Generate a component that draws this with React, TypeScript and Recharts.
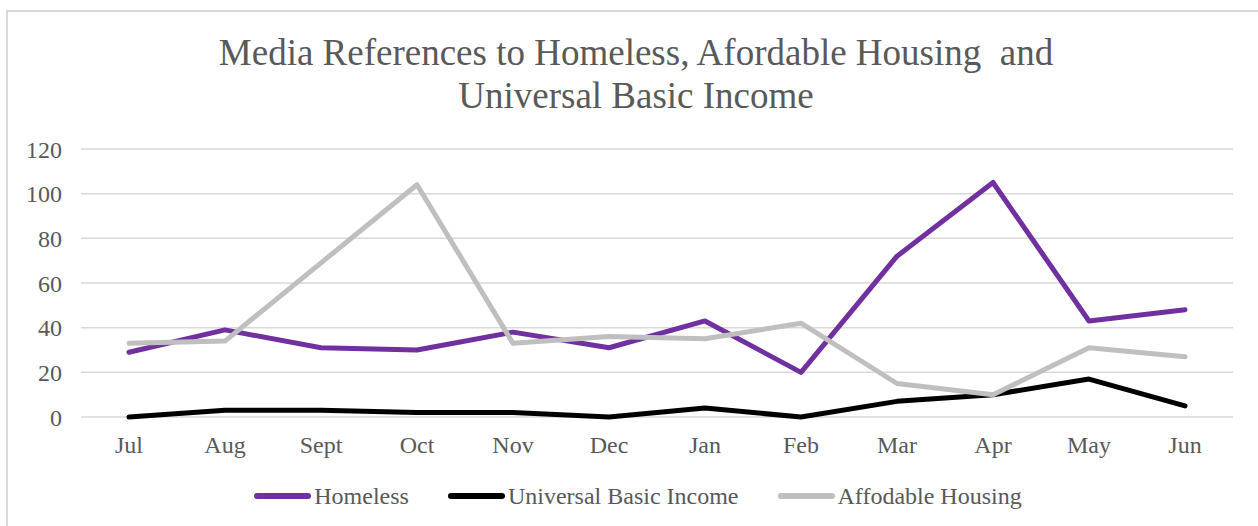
import React from "react";
import { LineChart, Line, XAxis, YAxis, CartesianGrid } from "recharts";

const months = ["Jul", "Aug", "Sept", "Oct", "Nov", "Dec", "Jan", "Feb", "Mar", "Apr", "May", "Jun"];
const homeless = [29, 39, 31, 30, 38, 31, 43, 20, 72, 105, 43, 48];
const basicIncome = [0, 3, 3, 2, 2, 0, 4, 0, 7, 10, 17, 5];
const affordable = [33, 34, 69, 104, 33, 36, 35, 42, 15, 10, 31, 27];
const yTicks = [0, 20, 40, 60, 80, 100, 120];

const series = [
  { key: "homeless", name: "Homeless", color: "#7030a0" },
  { key: "ubi", name: "Universal Basic Income", color: "#000000" },
  { key: "affordable", name: "Affodable Housing", color: "#bfbfbf" },
];

const data = months.map((m, i) => ({
  month: m,
  homeless: homeless[i],
  ubi: basicIncome[i],
  affordable: affordable[i],
}));

const FONT = '"Liberation Serif", "Times New Roman", serif';
const TEXT = "#595959";

export default function App() {
  return (
    <div
      style={{
        position: "absolute",
        left: 0,
        top: 0,
        width: 1258,
        height: 526,
        overflow: "hidden",
        background: "#fff",
        fontFamily: FONT,
      }}
    >
      {/* chart frame, cut off on the right and bottom */}
      <div
        style={{
          position: "absolute",
          left: 6,
          top: 10,
          width: 1300,
          height: 560,
          borderLeft: "2px solid #d9d9d9",
          borderTop: "2px solid #d9d9d9",
        }}
      />
      <div
        style={{
          position: "absolute",
          left: 6,
          top: 31,
          width: 1260,
          textAlign: "center",
          fontSize: 37,
          lineHeight: "43px",
          color: TEXT,
          whiteSpace: "pre",
        }}
      >
        {"Media References to Homeless, Afordable Housing  and\nUniversal Basic Income"}
      </div>

      <div style={{ position: "absolute", left: 0, top: 0 }}>
        <LineChart width={1258} height={526} data={data} margin={{ top: 149, right: 25, bottom: 0, left: 0 }}>
          <CartesianGrid vertical={false} stroke="#d9d9d9" strokeWidth={1.5} />
          <XAxis
            dataKey="month"
            height={109}
            axisLine={false}
            tickLine={false}
            tickSize={0}
            tickMargin={19}
            padding={{ left: 48, right: 48 }}
            interval={0}
            tick={{ fill: TEXT, fontSize: 24, fontFamily: FONT }}
          />
          <YAxis
            width={81}
            domain={[0, 120]}
            ticks={yTicks}
            axisLine={false}
            tickLine={false}
            tickSize={0}
            tickMargin={19}
            tick={{ fill: TEXT, fontSize: 24, fontFamily: FONT }}
          />
          {series.map((s) => (
            <Line
              key={s.key}
              type="linear"
              dataKey={s.key}
              name={s.name}
              stroke={s.color}
              strokeWidth={5}
              strokeLinecap="round"
              strokeLinejoin="round"
              dot={false}
              activeDot={false}
              isAnimationActive={false}
            />
          ))}
        </LineChart>
      </div>

      {/* Legend */}
      <div
        style={{
          position: "absolute",
          left: 6,
          top: 482,
          width: 1264,
          height: 28,
          display: "flex",
          justifyContent: "center",
          alignItems: "center",
          gap: 39,
        }}
      >
        {series.map((s) => (
          <div key={s.key} style={{ display: "flex", alignItems: "center", gap: 3 }}>
            <span
              style={{
                display: "inline-block",
                width: 57,
                height: 6,
                borderRadius: 3,
                background: s.color,
              }}
            />
            <span style={{ fontSize: 24, color: TEXT, lineHeight: "28px" }}>{s.name}</span>
          </div>
        ))}
      </div>
    </div>
  );
}
